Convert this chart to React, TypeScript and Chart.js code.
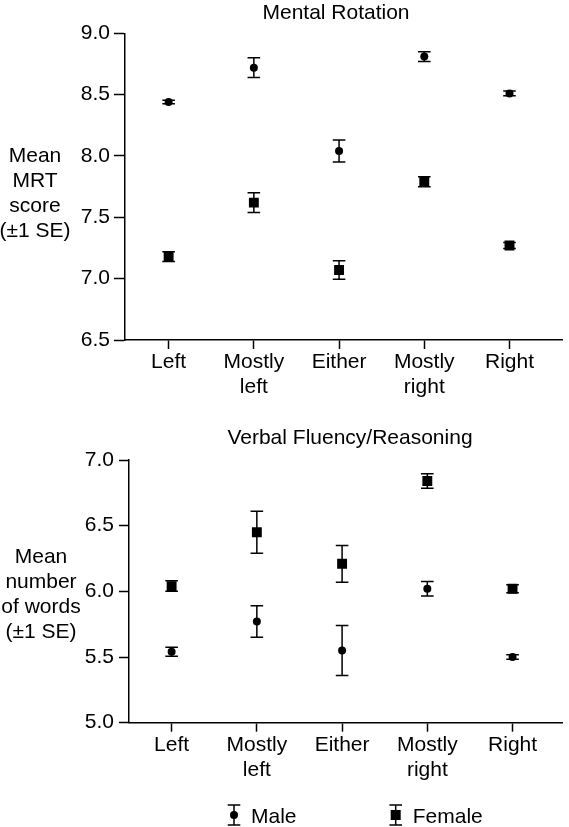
import React, { useEffect, useRef } from "react";
import { Chart, registerables } from "chart.js";

Chart.register(...registerables);

// ---------- data ----------
const categories: string[][] = [["Left"], ["Mostly", "left"], ["Either"], ["Mostly", "right"], ["Right"]];
const seriesNames = ["Male", "Female"];

const mrtTicks = [6.5, 7.0, 7.5, 8.0, 8.5, 9.0];
const mrtMale = [8.44, 8.72, 8.04, 8.81, 8.51];
const mrtMaleSE = [0.015, 0.08, 0.09, 0.04, 0.02];
const mrtFemale = [7.18, 7.62, 7.07, 7.79, 7.27];
const mrtFemaleSE = [0.04, 0.08, 0.075, 0.04, 0.025];

const verbalTicks = [5.0, 5.5, 6.0, 6.5, 7.0];
const verbalMale = [5.54, 5.77, 5.55, 6.02, 5.5];
const verbalMaleSE = [0.035, 0.12, 0.19, 0.055, 0.017];
const verbalFemale = [6.04, 6.45, 6.21, 6.84, 6.02];
const verbalFemaleSE = [0.04, 0.16, 0.14, 0.056, 0.03];

// ---------- styling ----------
const FONT = '"Liberation Sans", Arial, Helvetica, sans-serif';
const FS = 21;
const LW = 1.5;
const CAP = 6.3;

type TextItem = { text: string; x: number; y: number; align: CanvasTextAlign };

const errorBarPlugin = {
  id: "errorBars",
  beforeDatasetsDraw(chart: any) {
    const ctx = chart.ctx as CanvasRenderingContext2D;
    const xs = chart.scales.x;
    const ys = chart.scales.y;
    ctx.save();
    ctx.strokeStyle = "#000";
    ctx.lineWidth = LW;
    chart.data.datasets.forEach((ds: any) => {
      const se: number[] = ds.errors || [];
      ds.data.forEach((p: any, i: number) => {
        const x = xs.getPixelForValue(p.x);
        const y1 = ys.getPixelForValue(p.y + se[i]);
        const y2 = ys.getPixelForValue(p.y - se[i]);
        ctx.beginPath();
        ctx.moveTo(x, y1);
        ctx.lineTo(x, y2);
        ctx.moveTo(x - CAP, y1);
        ctx.lineTo(x + CAP, y1);
        ctx.moveTo(x - CAP, y2);
        ctx.lineTo(x + CAP, y2);
        ctx.stroke();
      });
    });
    ctx.restore();
  },
};

function textPlugin(items: TextItem[]) {
  return {
    id: "texts",
    afterDraw(chart: any) {
      const ctx = chart.ctx as CanvasRenderingContext2D;
      ctx.save();
      ctx.fillStyle = "#000";
      ctx.font = `${FS}px ${FONT}`;
      ctx.textBaseline = "alphabetic";
      items.forEach((t) => {
        ctx.textAlign = t.align;
        ctx.fillText(t.text, t.x, t.y);
      });
      ctx.restore();
    },
  };
}

function legendPlugin(iconXs: number[], cy: number) {
  return {
    id: "customLegend",
    afterDraw(chart: any) {
      const ctx = chart.ctx as CanvasRenderingContext2D;
      ctx.save();
      ctx.strokeStyle = "#000";
      ctx.fillStyle = "#000";
      ctx.lineWidth = LW;
      seriesNames.forEach((name, i) => {
        const x = iconXs[i];
        const top = cy - 10;
        const bot = cy + 10;
        ctx.beginPath();
        ctx.moveTo(x, top);
        ctx.lineTo(x, bot);
        ctx.moveTo(x - CAP, top);
        ctx.lineTo(x + CAP, top);
        ctx.moveTo(x - CAP, bot);
        ctx.lineTo(x + CAP, bot);
        ctx.stroke();
        ctx.beginPath();
        if (i === 0) {
          ctx.arc(x, cy, 4, 0, Math.PI * 2);
        } else {
          ctx.rect(x - 5, cy - 5, 10, 10);
        }
        ctx.fill();
        ctx.font = `${FS}px ${FONT}`;
        ctx.textAlign = "left";
        ctx.textBaseline = "alphabetic";
        ctx.fillText(name, x + 17, cy + 8.3);
      });
      ctx.restore();
    },
  };
}

type Panel = {
  male: number[];
  maleSE: number[];
  female: number[];
  femaleSE: number[];
  yTicks: number[];
  xMin: number;
  xMax: number;
  yWidth: number;
  yTickLen: number;
  yPad: number;
  xHeight: number;
  padTop: number;
  padRight: number;
  texts: TextItem[];
  extraPlugins: any[];
};

function buildConfig(p: Panel): any {
  const toPts = (vals: number[]) => vals.map((v, i) => ({ x: i + 1, y: v }));
  return {
    type: "scatter",
    data: {
      datasets: [
        {
          label: seriesNames[0],
          data: toPts(p.male),
          errors: p.maleSE,
          pointStyle: "circle",
          pointRadius: 4,
          pointBorderWidth: 0,
          backgroundColor: "#000",
          borderColor: "#000",
        },
        {
          label: seriesNames[1],
          data: toPts(p.female),
          errors: p.femaleSE,
          pointStyle: "rect",
          pointRadius: 7,
          pointBorderWidth: 0,
          backgroundColor: "#000",
          borderColor: "#000",
        },
      ],
    },
    options: {
      responsive: false,
      animation: false,
      events: [],
      layout: { padding: { top: p.padTop, right: p.padRight, left: 0, bottom: 0 } },
      plugins: { legend: { display: false }, tooltip: { enabled: false }, title: { display: false } },
      scales: {
        x: {
          type: "linear",
          min: p.xMin,
          max: p.xMax,
          afterBuildTicks: (s: any) => {
            s.ticks = categories.map((_, i) => ({ value: i + 1 }));
          },
          afterFit: (s: any) => {
            s.height = p.xHeight;
          },
          ticks: {
            autoSkip: false,
            maxRotation: 0,
            minRotation: 0,
            padding: 1,
            color: "#000",
            font: { family: FONT, size: FS, lineHeight: 1.18 },
            callback: (_v: any, i: number) => categories[i],
          },
          grid: {
            drawOnChartArea: false,
            drawTicks: true,
            tickLength: 9,
            tickColor: "#000",
            tickWidth: LW,
          },
          border: { display: true, color: "#000", width: LW },
        },
        y: {
          type: "linear",
          min: p.yTicks[0],
          max: p.yTicks[p.yTicks.length - 1],
          afterBuildTicks: (s: any) => {
            s.ticks = p.yTicks.map((v) => ({ value: v }));
          },
          afterFit: (s: any) => {
            s.width = p.yWidth;
          },
          ticks: {
            padding: p.yPad,
            color: "#000",
            font: { family: FONT, size: FS },
            callback: (v: any) => Number(v).toFixed(1),
          },
          grid: {
            drawOnChartArea: false,
            drawTicks: true,
            tickLength: p.yTickLen,
            tickColor: "#000",
            tickWidth: LW,
          },
          border: { display: true, color: "#000", width: LW },
        },
      },
    },
    plugins: [errorBarPlugin, textPlugin(p.texts), ...p.extraPlugins],
  };
}

const TOP_H = 410;
const BOT_H = 417;

export default function App() {
  const topRef = useRef<HTMLCanvasElement | null>(null);
  const botRef = useRef<HTMLCanvasElement | null>(null);

  useEffect(() => {
    const topCfg = buildConfig({
      male: mrtMale,
      maleSE: mrtMaleSE,
      female: mrtFemale,
      femaleSE: mrtFemaleSE,
      yTicks: mrtTicks,
      xMin: 0.488,
      xMax: 5.616,
      yWidth: 125,
      yTickLen: 11,
      yPad: 4,
      xHeight: TOP_H - 340,
      padTop: 33.3,
      padRight: 3,
      texts: [
        { text: "Mental Rotation", x: 336, y: 19, align: "center" },
        { text: "Mean", x: 35, y: 161.7, align: "center" },
        { text: "MRT", x: 35, y: 186.7, align: "center" },
        { text: "score", x: 35, y: 212, align: "center" },
        { text: "(±1 SE)", x: 35, y: 237, align: "center" },
      ],
      extraPlugins: [],
    });
    const botCfg = buildConfig({
      male: verbalMale,
      maleSE: verbalMaleSE,
      female: verbalFemale,
      femaleSE: verbalFemaleSE,
      yTicks: verbalTicks,
      xMin: 0.5,
      xMax: 5.58,
      yWidth: 129,
      yTickLen: 10,
      yPad: 5,
      xHeight: BOT_H - (722.7 - TOP_H),
      padTop: 460 - TOP_H,
      padRight: 3,
      texts: [
        { text: "Verbal Fluency/Reasoning", x: 350, y: 444 - TOP_H, align: "center" },
        { text: "Mean", x: 41, y: 562.7 - TOP_H, align: "center" },
        { text: "number", x: 41, y: 588 - TOP_H, align: "center" },
        { text: "of words", x: 41, y: 613 - TOP_H, align: "center" },
        { text: "(±1 SE)", x: 41, y: 637.7 - TOP_H, align: "center" },
      ],
      extraPlugins: [legendPlugin([234, 395.7], 815 - TOP_H)],
    });
    const c1 = new Chart(topRef.current as HTMLCanvasElement, topCfg);
    const c2 = new Chart(botRef.current as HTMLCanvasElement, botCfg);
    return () => {
      c1.destroy();
      c2.destroy();
    };
  }, []);

  return (
    <div style={{ position: "absolute", left: 0, top: 0, width: 569, height: 827, background: "#fff" }}>
      <canvas ref={topRef} width={569} height={TOP_H} style={{ display: "block", width: 569, height: TOP_H }} />
      <canvas ref={botRef} width={569} height={BOT_H} style={{ display: "block", width: 569, height: BOT_H }} />
    </div>
  );
}
